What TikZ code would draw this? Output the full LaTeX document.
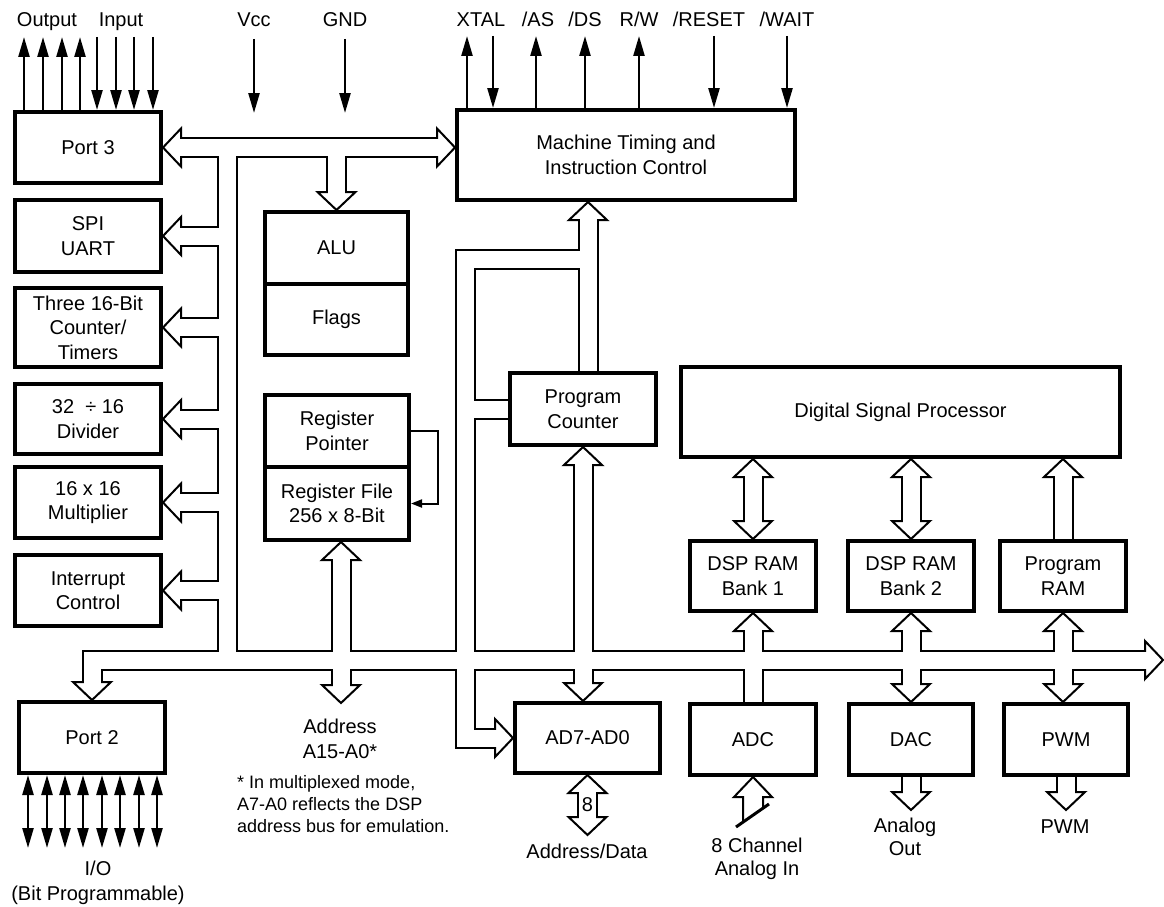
\documentclass[tikz,border=0pt]{standalone}
\usepackage{fontspec}
\setmainfont{Liberation Sans}
\usetikzlibrary{arrows.meta}
\usetikzlibrary{calc}

\pgfdeclarelayer{wallback}
\pgfdeclarelayer{heads}
\pgfdeclarelayer{wallfront}
\pgfsetlayers{wallback,heads,wallfront,main}

% hollow bus: wide black stroke, then narrow white stroke on top
\newcommand{\chan}[1]{%
  \begin{pgfonlayer}{wallback}\draw[line width=21pt] #1;\end{pgfonlayer}%
  \begin{pgfonlayer}{wallfront}\draw[line width=17pt,white] #1;\end{pgfonlayer}}
% hollow head, tip at #1, pointing to angle #2
\newcommand{\chead}[2]{%
  \begin{pgfonlayer}{heads}\draw[line width=2pt,fill=white,shift={#1},rotate=#2] (0,0) -- (-18,19) -- (-18,-19) -- cycle;\end{pgfonlayer}}

\begin{document}
\begin{tikzpicture}[x=1pt,y=-1pt,
  box/.style={draw,line width=4pt,fill=white,align=center,inner sep=0pt,font=\fontsize{20}{24.5}\selectfont},
  lbl/.style={inner sep=0pt,align=center,font=\fontsize{20}{24}\selectfont},
  sig/.style={line width=2.4pt,-{Triangle[length=20pt,width=11pt]}},
  io/.style={line width=2.4pt,{Triangle[length=20pt,width=11pt]}-{Triangle[length=20pt,width=11pt]}}]
\useasboundingbox (0,0) rectangle (1164,907);
\begin{pgfonlayer}{wallback}\fill[white] (0,0) rectangle (1164,907);\end{pgfonlayer}

% blocks
\node[box,minimum width=146pt,minimum height=71pt] (port3) at (88,147.5) {Port 3};
\node[box,minimum width=146pt,minimum height=72pt] (spi) at (88,236) {SPI\\UART};
\node[box,minimum width=146pt,minimum height=79pt] (timers) at (88,327.5) {Three 16-Bit\\Counter/\\Timers};
\node[box,minimum width=146pt,minimum height=70pt] (divider) at (88,419) {32 \ ÷ 16\\Divider};
\node[box,minimum width=146pt,minimum height=71pt] (mult) at (88,502.5) {16 x 16\\Multiplier};
\node[box,minimum width=146pt,minimum height=71pt] (intr) at (88,590.5) {Interrupt\\Control};
\node[box,minimum width=146pt,minimum height=71pt] (port2) at (92,737.5) {Port 2};
\node[box,minimum width=338pt,minimum height=90pt] (mt) at (626,155) {Machine Timing and\\Instruction Control};
\node[box,minimum width=143pt,minimum height=72pt] (alu) at (336.5,248) {ALU};
\node[box,minimum width=143pt,minimum height=71pt] (flags) at (336.5,319.5) {Flags};
\node[box,minimum width=144pt,minimum height=72pt] (regptr) at (337,431) {Register\\Pointer};
\node[box,minimum width=144pt,minimum height=73pt] (regfile) at (337,503.5) {Register File\\256 x 8-Bit};
\node[box,minimum width=146pt,minimum height=72pt] (pc) at (583,409) {Program\\Counter};
\node[box,minimum width=439pt,minimum height=90pt] (dsp) at (900.5,412) {Digital Signal Processor};
\node[box,minimum width=126pt,minimum height=70pt] (bank1) at (753,576) {DSP RAM\\Bank 1};
\node[box,minimum width=126pt,minimum height=70pt] (bank2) at (911,576) {DSP RAM\\Bank 2};
\node[box,minimum width=126pt,minimum height=70pt] (pram) at (1063,576) {Program\\RAM};
\node[box,minimum width=126pt,minimum height=71pt] (adc) at (753,739.5) {ADC};
\node[box,minimum width=124pt,minimum height=71pt] (dac) at (911,739.5) {DAC};
\node[box,minimum width=124pt,minimum height=71pt] (pwm) at (1066,739.5) {PWM};
\node[box,minimum width=145pt,minimum height=70pt] (ad) at (587.5,738) {AD7-AD0};

\coordinate (lb) at (227.5,660);
\coordinate (re) at (1163,660);
\coordinate (addr) at (341,703);
\coordinate (pm) at (588,259);
\coordinate (lc) at (465.5,259);
\coordinate (adb) at (588,835);
\coordinate (aout) at (910,810);

% top bus and left trunk
\chead{(port3.east)}{180}
\chead{(mt.west |- port3.east)}{0}
\chan{($(port3.east)+(15,0)$) -- ($(mt.west |- port3.east)-(15,0)$)}
\chan{(port3.east -| lb) -- (lb)}
\foreach \b in {spi,timers,divider,mult,intr}{
  \chead{(\b.east)}{180}
  \chan{($(\b.east)+(15,0)$) -- (\b.east -| lb)}
}
\chead{(alu.north)}{270}
\chan{(alu.north |- port3.east) -- ($(alu.north)-(0,15)$)}

% bottom bus
\chead{(port2.north)}{270}
\chead{(re)}{0}
\chan{($(port2.north)-(0,15)$) -- (port2.north |- lb) -- ($(re)-(15,0)$)}
\chead{(addr |- regfile.south)}{90}
\chead{(addr)}{270}
\chan{($(addr |- regfile.south)+(0,15)$) -- ($(addr)-(0,15)$)}

% program counter
\chead{(pm |- mt.south)}{90}
\chan{($(pm |- mt.south)+(0,15)$) -- (pm |- pc.north)}
\chead{(ad.west)}{0}
\chan{(pm) -- (lc) -- (lc |- ad.west) -- ($(ad.west)-(15,0)$)}
\chan{(lc |- pc.west) -- (pc.west)}
\chead{(pc.south)}{90}
\chead{(pc.south |- ad.north)}{270}
\chan{($(pc.south)+(0,15)$) -- ($(pc.south |- ad.north)-(0,15)$)}
\chead{(ad.south)}{90}
\chead{(ad.south |- adb)}{270}
\chan{($(ad.south)+(0,15)$) -- ($(ad.south |- adb)-(0,15)$)}

% DSP side
\foreach \b in {bank1,bank2}{
  \chead{(\b.north |- dsp.south)}{90}
  \chead{(\b.north)}{270}
  \chan{($(\b.north |- dsp.south)+(0,15)$) -- ($(\b.north)-(0,15)$)}
}
\chead{(pram.north |- dsp.south)}{90}
\chan{(pram.north) -- ($(pram.north |- dsp.south)+(0,15)$)}
\chead{(bank1.south)}{90}
\chan{(adc.north) -- ($(bank1.south)+(0,15)$)}
\foreach \b/\c in {bank2/dac,pram/pwm}{
  \chead{(\b.south)}{90}
  \chead{(\b.south |- \c.north)}{270}
  \chan{($(\b.south)+(0,15)$) -- ($(\b.south |- \c.north)-(0,15)$)}
}
\foreach \c in {dac,pwm}{
  \chead{(\c.south |- aout)}{270}
  \chan{(\c.south) -- ($(\c.south |- aout)-(0,15)$)}
}
\draw[line width=2pt,line join=miter] ($(adc.south)+(-10,45)$) -- ++(0,-25) -- ++(-9,0) -- (adc.south) -- ++(19,20) -- ++(-9,0) -- ++(0,11);
\draw[line width=3pt] ($(adc.south)+(-17,50)$) -- ++(33,-23);

% register pointer feedback
\draw[line width=2pt,-{Triangle[length=11pt,width=8pt]}] (regptr.east) -- ++(27,0) |- (regfile.east);

% pins
\node[lbl,anchor=base] (outlbl) at (47,27) {Output};
\node[lbl,anchor=base] (inlbl) at (121,27) {Input};
\foreach \x in {24,43,62,80} \draw[sig] (\x,0 |- port3.north) -- (\x,37);
\foreach \x in {97,116,134,153} \draw[sig] (\x,37) -- (\x,0 |- port3.north);
\node[lbl,anchor=base] (vcc) at (254,27) {Vcc};
\node[lbl,anchor=base] (gnd) at (345,27) {GND};
\draw[sig] (vcc |- 0,39) -- (vcc |- 0,113);
\draw[sig] (gnd |- 0,39) -- (gnd |- 0,113);
\node[lbl,anchor=base] (xtal) at (481,27) {XTAL};
\node[lbl,anchor=base] (as) at (538,27) {/AS};
\node[lbl,anchor=base] (ds) at (585,27) {/DS};
\node[lbl,anchor=base] (rw) at (639,27) {R/W};
\node[lbl,anchor=base] (reset) at (709,27) {/RESET};
\node[lbl,anchor=base] (wait) at (787,27) {/WAIT};
\draw[sig] (467,0 |- mt.north) -- (467,36);
\draw[sig] (493,36) -- (493,0 |- mt.north);
\draw[sig] (536,0 |- mt.north) -- (536,36);
\draw[sig] (585,0 |- mt.north) -- (585,36);
\draw[sig] (639,0 |- mt.north) -- (639,36);
\draw[sig] (714,36) -- (714,0 |- mt.north);
\draw[sig] (787,36) -- (787,0 |- mt.north);
\foreach \x in {28,47,65,83,102,120,139,157} \draw[io] (\x,0 |- port2.south) -- (\x,848);

% bottom labels
\node[lbl,anchor=north,font=\fontsize{20}{25}\selectfont] (iolbl) at (98,861) {I/O\\(Bit Programmable)};
\node[lbl,anchor=north,font=\fontsize{20}{25}\selectfont] (addrlbl) at (340,719) {Address\\A15-A0*};
\node[lbl,anchor=north west,align=left,font=\fontsize{18}{22}\selectfont] (note) at (237,775) {* In multiplexed mode,\\A7-A0 reflects the DSP\\address bus for emulation.};
\node[lbl] (eight) at (ad.south |- 0,805) {8};
\node[lbl,anchor=base] (adlbl) at (587,858) {Address/Data};
\node[lbl,anchor=north,font=\fontsize{20}{23}\selectfont] (ainlbl) at (757,838) {8 Channel\\Analog In};
\node[lbl,anchor=north,font=\fontsize{20}{23}\selectfont] (aoutlbl) at (905,818) {Analog\\Out};
\node[lbl,anchor=base] (pwmlbl) at (1065,833) {PWM};
\end{tikzpicture}
\end{document}
